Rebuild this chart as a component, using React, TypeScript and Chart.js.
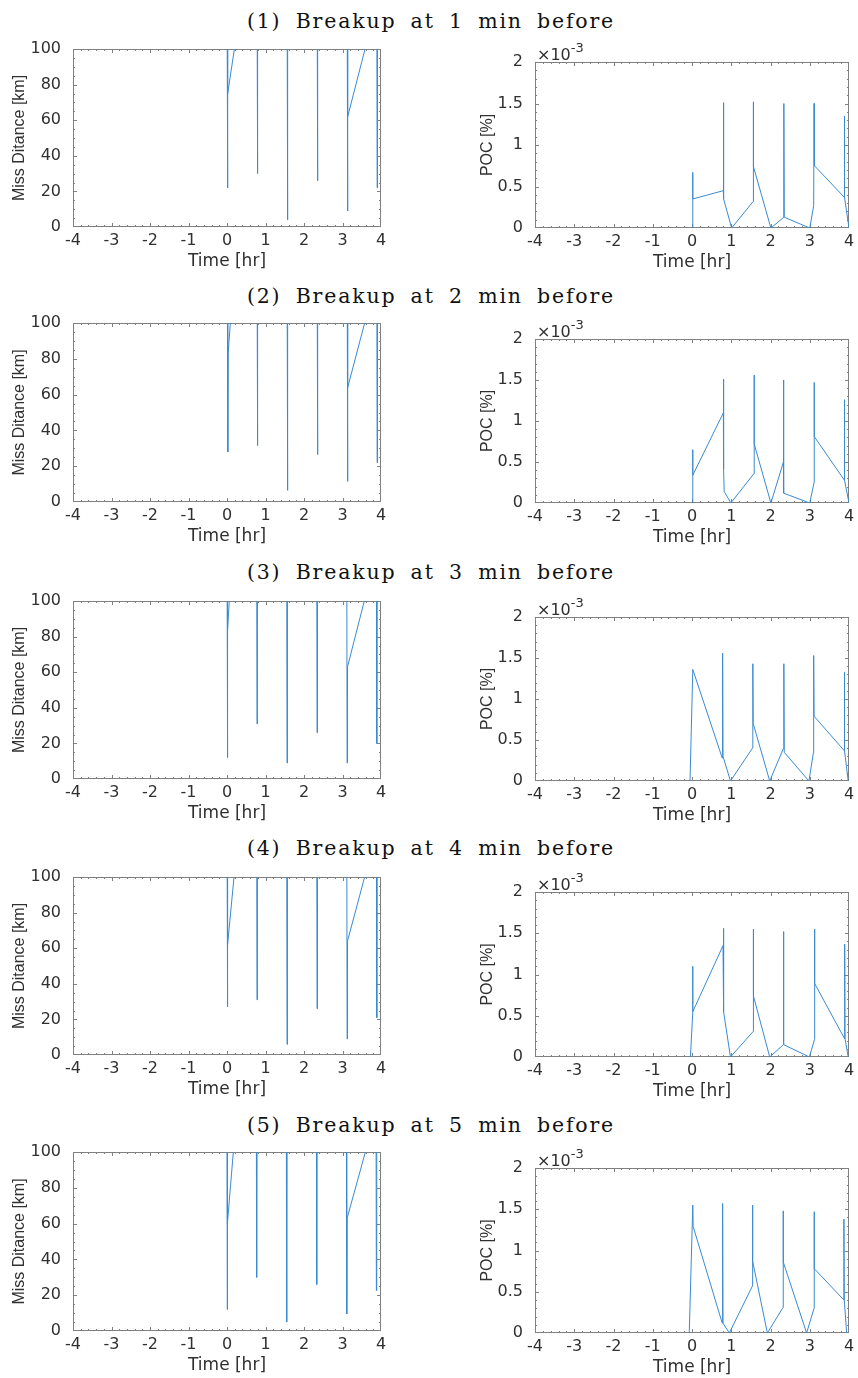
import React, { useEffect, useRef } from "react";
import { Chart, registerables } from "chart.js";

Chart.register(...registerables);

// ---------- text ----------
const rowTitles = [
  "(1) Breakup at 1 min before",
  "(2) Breakup at 2 min before",
  "(3) Breakup at 3 min before",
  "(4) Breakup at 4 min before",
  "(5) Breakup at 5 min before",
];
const missAxisTitle = "Miss Ditance [km]";
const pocAxisTitle = "POC [%]";
const timeAxisTitle = "Time [hr]";

// ---------- axes ----------
const timeRange = [-4, 4];
const timeStep = 1;
const timeMinor = 0.2;
const missRange = [0, 100];
const missStep = 20;
const missMinor = 5;
const pocRange = [0, 2]; // in units of 1e-3 %
const pocStep = 0.5;
const pocMinor = 0.1;

// ---------- Miss distance [km] (values above 100 run off the top of the axes) ----------
const missT1 = [0.0, 0.01, 0.025, 0.22, 0.78, 0.79, 0.8, 1.56, 1.57, 1.58, 2.34, 2.35, 2.36, 3.12, 3.13, 3.14, 3.61, 3.89, 3.9, 3.91];
const missD1 = [140, 22, 75, 104, 140, 30, 140, 140, 4, 140, 140, 26, 140, 140, 9, 62, 102, 140, 22, 140];

const missT2 = [0.01, 0.02, 0.03, 0.1, 0.78, 0.79, 0.8, 1.56, 1.57, 1.58, 2.34, 2.35, 2.36, 3.12, 3.13, 3.14, 3.6, 3.89, 3.9, 3.91];
const missD2 = [140, 28, 83, 104, 140, 31.5, 140, 140, 6.5, 140, 140, 26.5, 140, 140, 11.5, 64, 102, 140, 22, 140];

const missT3 = [0.0, 0.01, 0.02, 0.07, 0.77, 0.78, 0.79, 1.55, 1.56, 1.57, 2.33, 2.34, 2.35, 3.11, 3.12, 3.13, 3.59, 3.88, 3.89, 3.9];
const missD3 = [140, 12, 84, 104, 140, 31, 140, 140, 9, 140, 140, 26, 140, 140, 9, 63, 102, 140, 20, 140];

const missT4 = [0.0, 0.01, 0.02, 0.2, 0.77, 0.78, 0.79, 1.55, 1.56, 1.57, 2.33, 2.34, 2.35, 3.11, 3.12, 3.13, 3.6, 3.88, 3.89, 3.9];
const missD4 = [140, 27, 62, 104, 140, 31, 140, 140, 6, 140, 140, 26, 140, 140, 9, 64, 102, 140, 21, 140];

const missT5 = [0.0, 0.005, 0.015, 0.18, 0.76, 0.77, 0.78, 1.54, 1.55, 1.56, 2.32, 2.33, 2.34, 3.1, 3.11, 3.12, 3.62, 3.87, 3.88, 3.89];
const missD5 = [140, 12, 60, 104, 140, 30, 140, 140, 5, 140, 140, 26, 140, 140, 9.5, 63, 102, 140, 22.6, 140];

// ---------- POC [%] x 1e-3 ----------
const pocT1 = [0.02, 0.02, 0.02, 0.8, 0.8, 0.81, 1.01, 1.56, 1.56, 1.57, 2.01, 2.34, 2.34, 2.35, 3.0, 3.1, 3.11, 3.12, 3.88, 3.88, 3.89, 4.0];
const pocV1 = [0, 0.67, 0.35, 0.45, 1.51, 0.35, 0, 0.32, 1.52, 0.74, 0, 0.13, 1.5, 0.13, 0, 0.27, 1.5, 0.75, 0.37, 1.35, 0.37, 0];

const pocT2 = [0.02, 0.02, 0.02, 0.8, 0.8, 0.81, 0.82, 0.99, 1.58, 1.58, 1.59, 2.01, 2.33, 2.33, 2.34, 3.0, 3.11, 3.11, 3.12, 3.88, 3.88, 3.89, 4.0];
const pocV2 = [0, 0.65, 0.34, 1.1, 1.51, 0.41, 0.14, 0, 0.36, 1.56, 0.72, 0, 0.5, 1.5, 0.12, 0, 0.25, 1.47, 0.81, 0.28, 1.26, 0.28, 0];

const pocT3 = [-0.05, 0.02, 0.77, 0.78, 0.79, 0.98, 1.54, 1.55, 1.56, 1.98, 2.34, 2.34, 2.35, 2.98, 3.09, 3.1, 3.11, 3.88, 3.88, 3.89, 3.98];
const pocV3 = [0, 1.36, 0.28, 1.56, 0.3, 0, 0.4, 1.43, 0.7, 0, 0.41, 1.43, 0.35, 0, 0.34, 1.53, 0.79, 0.37, 1.33, 0.37, 0];

const pocT4 = [-0.04, 0.02, 0.02, 0.02, 0.79, 0.8, 0.81, 0.98, 1.56, 1.56, 1.57, 1.98, 2.33, 2.33, 2.34, 2.99, 3.12, 3.12, 3.13, 3.89, 3.89, 3.9, 3.98];
const pocV4 = [0, 0.55, 1.1, 0.55, 1.35, 1.56, 0.55, 0, 0.31, 1.55, 0.74, 0, 0.15, 1.52, 0.15, 0, 0.21, 1.55, 0.89, 0.22, 1.37, 0.22, 0];

const pocT5 = [-0.07, 0.02, 0.03, 0.77, 0.78, 0.79, 0.95, 1.54, 1.54, 1.55, 1.92, 2.32, 2.32, 2.33, 2.92, 3.11, 3.11, 3.12, 3.87, 3.87, 3.88, 3.94];
const pocV5 = [0, 1.55, 1.29, 0.12, 1.57, 0.12, 0, 0.57, 1.55, 0.87, 0, 0.31, 1.48, 0.86, 0, 0.3, 1.47, 0.78, 0.4, 1.38, 0.4, 0];

const missTimes = [missT1, missT2, missT3, missT4, missT5];
const missValues = [missD1, missD2, missD3, missD4, missD5];
const pocTimes = [pocT1, pocT2, pocT3, pocT4, pocT5];
const pocValues = [pocV1, pocV2, pocV3, pocV4, pocV5];

// ---------- layout (page pixels) ----------
const rowLayout = [
  { base: 28, lTop: 49, lBot: 227, rTop: 62, rBot: 228 },
  { base: 303, lTop: 323, lBot: 502, rTop: 339, rBot: 503 },
  { base: 579, lTop: 601, lBot: 779, rTop: 617, rBot: 781 },
  { base: 855, lTop: 877, lBot: 1055, rTop: 892, rBot: 1057 },
  { base: 1132, lTop: 1152, lBot: 1331, rTop: 1168, rBot: 1333 },
];

const LINE_COLOR = "#3a8ad0";
const AXIS_COLOR = "#808080";
const TEXT_COLOR = "#303030";
const SANS_H = "'DejaVu Sans', sans-serif";
const SANS_V = "'Liberation Sans', Arial, sans-serif";
const X_AXIS_H = 46;

const framePlugin = {
  id: "frame",
  beforeDatasetsDraw(chart: any, _args: any, opts: any) {
    const { ctx, chartArea, scales } = chart;
    const { left, right, top, bottom } = chartArea;
    const x = scales.x;
    const y = scales.y;
    ctx.save();
    ctx.strokeStyle = AXIS_COLOR;
    ctx.lineWidth = 1;
    ctx.strokeRect(left + 0.5, top + 0.5, right - left - 1, bottom - top - 1);
    ctx.beginPath();
    const nx = Math.round((x.max - x.min) / opts.xMinor);
    for (let i = 0; i <= nx; i++) {
      const v = x.min + i * opts.xMinor;
      const major = Math.abs(v / opts.xMajor - Math.round(v / opts.xMajor)) < 1e-6;
      const len = major ? 4 : 2;
      const px = Math.round(x.getPixelForValue(v)) + 0.5;
      const pxc = Math.min(Math.max(px, left + 0.5), right - 0.5);
      ctx.moveTo(pxc, bottom);
      ctx.lineTo(pxc, bottom - len);
      ctx.moveTo(pxc, top);
      ctx.lineTo(pxc, top + len);
    }
    const ny = Math.round((y.max - y.min) / opts.yMinor);
    for (let i = 0; i <= ny; i++) {
      const v = y.min + i * opts.yMinor;
      const major = Math.abs(v / opts.yMajor - Math.round(v / opts.yMajor)) < 1e-6;
      const len = major ? 4 : 2;
      const py = Math.round(y.getPixelForValue(v)) + 0.5;
      const pyc = Math.min(Math.max(py, top + 0.5), bottom - 0.5);
      ctx.moveTo(left, pyc);
      ctx.lineTo(left + len, pyc);
      ctx.moveTo(right, pyc);
      ctx.lineTo(right - len, pyc);
    }
    ctx.stroke();
    if (opts.exponent) {
      ctx.fillStyle = TEXT_COLOR;
      ctx.textBaseline = "alphabetic";
      ctx.textAlign = "left";
      ctx.font = `16px ${SANS_H}`;
      ctx.fillText("\u00d710", left + 2, top - 2);
      const w = ctx.measureText("\u00d710").width;
      ctx.font = `13px ${SANS_H}`;
      ctx.fillText(opts.exponent, left + 2 + w, top - 10);
    }
    ctx.restore();
  },
};

type Geom = {
  left: number;
  top: number;
  width: number;
  height: number;
  padT: number;
  padR: number;
  yAxisW: number;
  yTitlePad: number;
};

function Panel(props: { kind: "miss" | "poc"; times: number[]; values: number[]; geom: Geom }) {
  const ref = useRef<HTMLCanvasElement | null>(null);
  const { kind, times, values, geom } = props;
  useEffect(() => {
    if (!ref.current) return;
    const isMiss = kind === "miss";
    const chart = new Chart(ref.current, {
      type: "line",
      data: {
        datasets: [
          {
            data: times.map((t, i) => ({ x: t, y: values[i] })),
            borderColor: LINE_COLOR,
            borderWidth: 1,
            pointRadius: 0,
            tension: 0,
            fill: false,
          },
        ],
      },
      options: {
        animation: false,
        responsive: false,
        events: [],
        layout: { padding: { left: 0, right: geom.padR, top: geom.padT, bottom: 0 } },
        plugins: {
          legend: { display: false },
          tooltip: { enabled: false },
          frame: {
            xMinor: timeMinor,
            xMajor: timeStep,
            yMinor: isMiss ? missMinor : pocMinor,
            yMajor: isMiss ? missStep : pocStep,
            exponent: isMiss ? "" : "-3",
          },
        } as any,
        scales: {
          x: {
            type: "linear",
            min: timeRange[0],
            max: timeRange[1],
            afterFit: (s: any) => {
              s.height = X_AXIS_H;
            },
            grid: { display: false },
            border: { display: false },
            ticks: {
              stepSize: timeStep,
              autoSkip: false,
              maxRotation: 0,
              padding: -4,
              color: TEXT_COLOR,
              font: { family: SANS_H, size: 16 },
              callback: (v: any) => String(v),
            },
            title: {
              display: true,
              text: timeAxisTitle,
              color: TEXT_COLOR,
              font: { family: SANS_H, size: 17 },
              padding: { top: 0, bottom: 1 },
            },
          },
          y: {
            type: "linear",
            min: isMiss ? missRange[0] : pocRange[0],
            max: isMiss ? missRange[1] : pocRange[1],
            afterFit: (s: any) => {
              s.width = geom.yAxisW;
            },
            grid: { display: false },
            border: { display: false },
            ticks: {
              stepSize: isMiss ? missStep : pocStep,
              autoSkip: false,
              padding: 4,
              color: TEXT_COLOR,
              font: { family: SANS_H, size: 16 },
              callback: (v: any) => String(v),
            },
            title: {
              display: true,
              text: isMiss ? missAxisTitle : pocAxisTitle,
              color: TEXT_COLOR,
              font: { family: SANS_V, size: 16 },
              padding: { top: geom.yTitlePad, bottom: 0 },
            },
          },
        },
      } as any,
      plugins: [framePlugin as any],
    });
    return () => chart.destroy();
  }, [kind, times, values, geom]);
  return (
    <canvas
      ref={ref}
      width={geom.width}
      height={geom.height}
      style={{ position: "absolute", left: geom.left, top: geom.top, width: geom.width, height: geom.height }}
    />
  );
}

function leftGeom(r: (typeof rowLayout)[number]): Geom {
  const padT = 14;
  return {
    left: 0,
    top: r.lTop - padT,
    width: 400,
    height: padT + (r.lBot - r.lTop) + X_AXIS_H,
    padT,
    padR: 400 - 381,
    yAxisW: 73,
    yTitlePad: 10.4,
  };
}

function rightGeom(r: (typeof rowLayout)[number]): Geom {
  const padT = 22;
  return {
    left: 470,
    top: r.rTop - padT,
    width: 388,
    height: padT + (r.rBot - r.rTop) + X_AXIS_H,
    padT,
    padR: 858 - 849,
    yAxisW: 65,
    yTitlePad: 8.4,
  };
}

const leftGeoms = rowLayout.map(leftGeom);
const rightGeoms = rowLayout.map(rightGeom);

export default function App() {
  return (
    <div
      style={{
        position: "absolute",
        left: 0,
        top: 0,
        width: 858,
        height: 1378,
        background: "#fff",
        overflow: "hidden",
      }}
    >
      {rowLayout.map((r, i) => (
        <React.Fragment key={i}>
          <div
            style={{
              position: "absolute",
              left: 0,
              top: r.base - 19,
              width: 862,
              textAlign: "center",
              fontFamily: "'DejaVu Serif', serif",
              fontSize: 20.5,
              lineHeight: "24px",
              letterSpacing: "1.8px",
              wordSpacing: "6px",
              whiteSpace: "pre",
              color: "#111",
            }}
          >
            {rowTitles[i]}
          </div>
          <Panel kind="miss" times={missTimes[i]} values={missValues[i]} geom={leftGeoms[i]} />
          <Panel kind="poc" times={pocTimes[i]} values={pocValues[i]} geom={rightGeoms[i]} />
        </React.Fragment>
      ))}
    </div>
  );
}
